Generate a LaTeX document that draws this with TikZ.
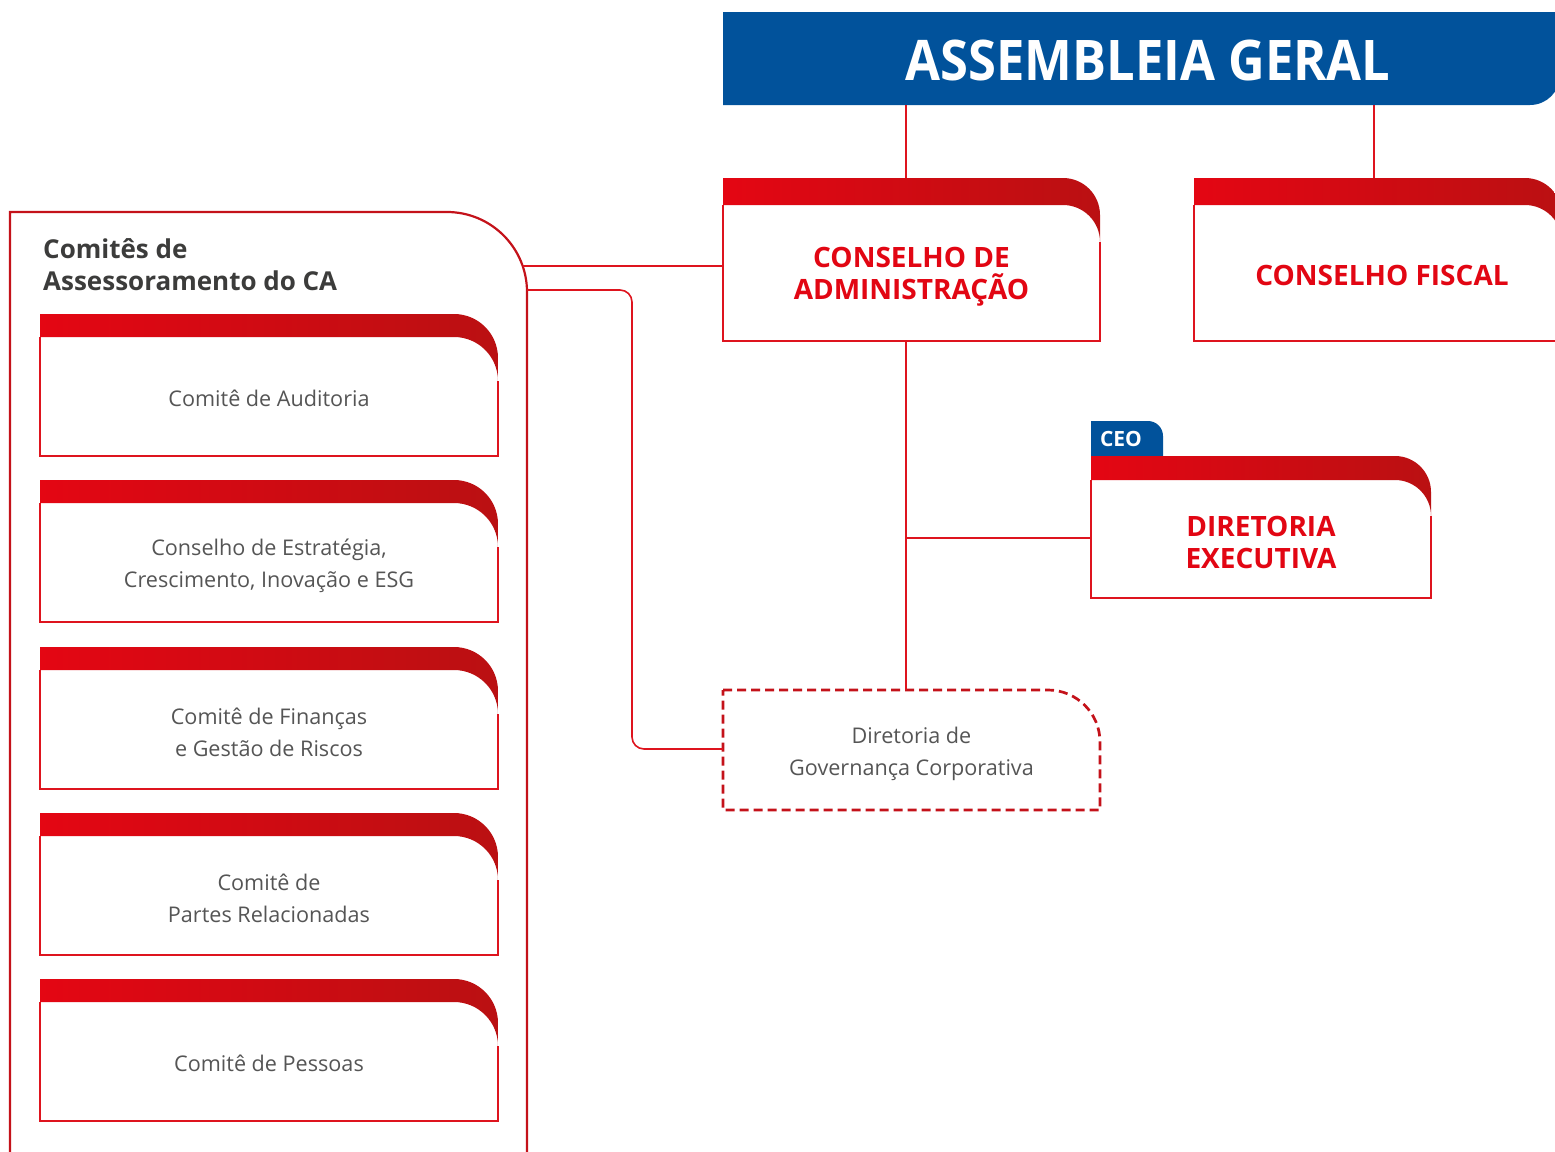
\documentclass[tikz,border=0pt]{standalone}
\usepackage{fontspec}
\setmainfont{Open Sans}
\usepackage{graphicx}
\definecolor{agblue}{RGB}{1,82,155}
\definecolor{bandL}{RGB}{228,6,19}
\definecolor{bandR}{RGB}{186,16,18}
\definecolor{linered}{RGB}{222,20,30}
\definecolor{contred}{RGB}{196,18,26}
\definecolor{titred}{RGB}{226,6,19}
\definecolor{greyt}{RGB}{85,85,85}
\definecolor{darkt}{RGB}{60,60,59}
\tikzset{
  conn/.style={draw=linered, line width=1.6pt},
  boxline/.style={draw=linered, line width=1.6pt},
  cont/.style={draw=contred, line width=2.2pt},
  greytxt/.style={text=greyt, font=\fontsize{21.6}{32}\selectfont, align=center, inner sep=0pt},
  redtxt/.style={text=titred, font=\bfseries\fontsize{28}{32}\selectfont, align=center, inner sep=0pt},
}
% name, x1, y1, x2, y2, radius, band, style, text
\newcommand{\orgbox}[9]{%
  \pgfmathsetmacro{\ka}{#6*0.5523}%
  \pgfmathsetmacro{\yb}{#3+#7}%
  \pgfmathsetmacro{\xr}{#4-#6}%
  \pgfmathsetmacro{\yr}{#3+#6}%
  \pgfmathsetmacro{\ybr}{#3+#7+#6}%
  \pgfmathsetmacro{\cx}{(#2+#4)/2}%
  \pgfmathsetmacro{\cy}{(\yb+#5)/2}%
  \pgfmathsetmacro{\bw}{#4-#2}%
  \pgfmathsetmacro{\bh}{#5-\yb}%
  \shade[left color=bandL, right color=bandR] (#2,#3) -- (\xr,#3)
     .. controls +(\ka,0) and +(0,-\ka) .. (#4,\yr) -- (#4,\ybr)
     .. controls +(0,-\ka) and +(\ka,0) .. (\xr,\yb) -- (#2,\yb) -- cycle;
  \draw[boxline] (#2,\yb) -- (#2,#5) -- (#4,#5) -- (#4,\ybr);
  \node[#8, minimum width=\bw pt, minimum height=\bh pt] (#1) at (\cx,\cy) {#9};
}
\begin{document}
\begin{tikzpicture}[x=1pt,y=-1pt]
\useasboundingbox (0,0) rectangle (1555,1151);
\clip (0,0) rectangle (1555,1151);
\fill[white] (0,0) rectangle (1555,1151);

% Assembleia Geral
\fill[agblue] (723,12) -- (1560,12) -- (1560,75)
   .. controls (1560,91.6) and (1546.6,105) .. (1530,105) -- (723,105) -- cycle;
\node[text=white, font=\bfseries\fontsize{56}{60}\selectfont, inner sep=0pt] (ag) at (1148,60)
   {\scalebox{0.905}[1]{ASSEMBLEIA GERAL}};

% Conselho de Administracao / Fiscal
\orgbox{ca}{723}{178}{1100}{341}{37}{27}{redtxt, yshift=-4pt}{CONSELHO DE\\ADMINISTRAÇÃO}
\orgbox{cf}{1194}{178}{1562}{341}{37}{27}{redtxt, yshift=-2pt}{\hspace*{8pt}CONSELHO FISCAL}

% Diretoria Executiva with CEO tab
\fill[agblue] (1091,456) -- (1091,421) -- (1148,421)
   .. controls (1156.3,421) and (1163,427.7) .. (1163,436) -- (1163,456) -- cycle;
\node[text=white, font=\bfseries\fontsize{21}{24}\selectfont, inner sep=0pt] (ceo) at (1121,439) {CEO};
\orgbox{de}{1091}{456}{1431}{598}{36}{24}{redtxt, yshift=-3pt}{DIRETORIA\\EXECUTIVA}

% Diretoria de Governanca Corporativa (dashed)
\draw[draw=contred, line width=2.7pt, dash pattern=on 9pt off 5pt]
   (723,690) -- (1048,690) .. controls (1076.7,690) and (1100,713.3) .. (1100,742)
   -- (1100,810) -- (723,810) -- cycle;
\node[greytxt, minimum width=377pt, minimum height=120pt] (dgc) at (911.5,754)
   {Diretoria de\\Governança Corporativa};

% Container of committees
\draw[cont] (10,1160) -- (10,212) -- (447,212)
   .. controls (491.2,212) and (527,247.8) .. (527,292) -- (527,1160);
\node[text=darkt, font=\bfseries\fontsize{26}{32}\selectfont, align=left, inner sep=0pt,
      anchor=north west] (cmt) at (43,238) {Comitês de\\Assessoramento do CA};

\orgbox{aud}{40}{314}{498}{456}{44}{23}{greytxt, yshift=-2pt}{Comitê de Auditoria}
\orgbox{est}{40}{480}{498}{622}{44}{23}{greytxt, yshift=-3pt}{Conselho de Estratégia,\\Crescimento, Inovação e ESG}
\orgbox{fin}{40}{647}{498}{789}{44}{23}{greytxt, yshift=-3pt}{Comitê de Finanças\\e Gestão de Riscos}
\orgbox{par}{40}{813}{498}{955}{44}{23}{greytxt, yshift=-3pt}{Comitê de\\Partes Relacionadas}
\orgbox{pes}{40}{979}{498}{1121}{44}{23}{greytxt, yshift=-2pt}{Comitê de Pessoas}

% connectors
\coordinate (agA) at (906,105);
\coordinate (caT) at (906,178);
\coordinate (agB) at (1374,105);
\coordinate (cfT) at (1374,178);
\draw[conn] (agA) -- (caT);
\draw[conn] (agB) -- (cfT);
\coordinate (caB) at (906,341);
\coordinate (dgT) at (906,690);
\coordinate (br) at (906,538);
\draw[conn] (caB) -- (dgT);
\draw[conn] (br) -- (de.west |- br);
\coordinate (k1) at (522.7,266);
\draw[conn] (k1) -- (ca.west |- k1);
\coordinate (k2) at (527,290);
\coordinate (k3) at (632,749);
\draw[conn, rounded corners=12pt] (k2) -- (k2 -| k3) -- (k3) -- (dgc.west |- k3);
\end{tikzpicture}
\end{document}
